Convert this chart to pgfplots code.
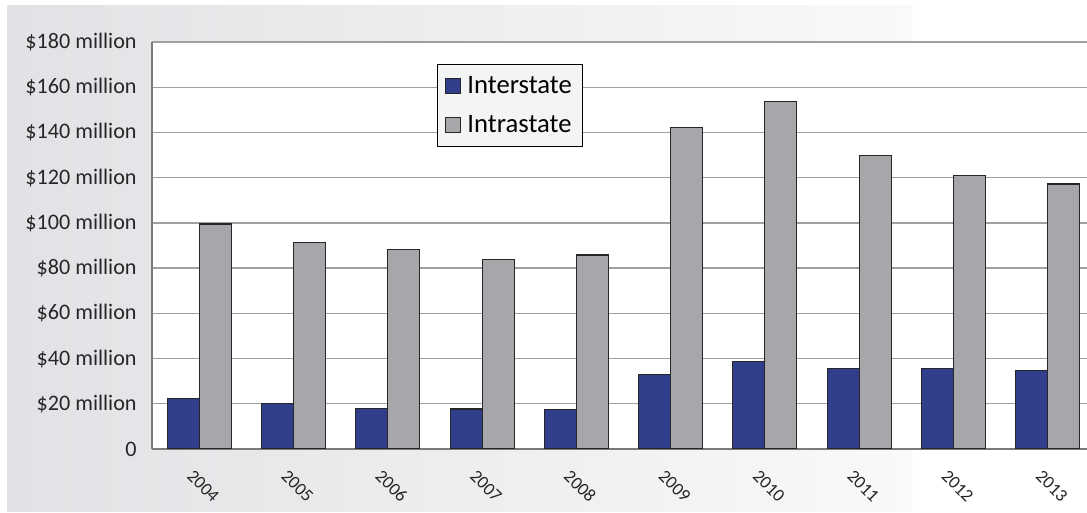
\documentclass[border=0pt]{standalone}
\usepackage{pgfplots}
\pgfplotsset{compat=1.18}
\usepackage{fontspec}
\setmainfont{Carlito}
\definecolor{inter}{HTML}{313E8B}
\definecolor{intra}{HTML}{A7A7AB}
\definecolor{bgL}{HTML}{E1E2E5}
\definecolor{bgR}{HTML}{F9F9F9}
\definecolor{gridc}{HTML}{A0A0A0}
\definecolor{axc}{HTML}{7A7A7A}
\definecolor{legf}{HTML}{F3F4F4}
\begin{document}
\begin{tikzpicture}
\path[use as bounding box, clip] (0,0) rectangle (815.25pt,384.75pt);
\shade[left color=bgL, right color=bgR] (5.25pt,0.75pt) rectangle (684pt,380.25pt);
\begin{axis}[
  at={(114pt,48pt)}, anchor=south west,
  scale only axis, width=707.25pt, height=305.25pt,
  xmin=-0.5, xmax=9.5, ymin=0, ymax=180,
  ybar=0pt, bar width=24pt,
  axis background/.style={fill=white},
  axis x line*=bottom, axis y line*=left,
  axis line style={axc, line width=1.5pt},
  xtick={0,...,9},
  xticklabels={2004,2005,2006,2007,2008,2009,2010,2011,2012,2013},
  ytick={0,20,...,180},
  yticklabels={0,\$20 million,\$40 million,\$60 million,\$80 million,\$100 million,\$120 million,\$140 million,\$160 million,\$180 million},
  ymajorgrids, major grid style={gridc, line width=1pt},
  major tick length=0pt,
  yticklabel style={font=\fontsize{16.6}{18}\selectfont, text=black!85, xshift=-8pt},
  xticklabel style={font=\fontsize{13.5}{15}\selectfont, text=black!85, rotate=-45, anchor=north west, xshift=4.5pt, yshift=-9.5pt},
  legend style={at={(0.302,0.946)}, anchor=north west, font=\fontsize{20}{22}\selectfont,
    draw=black, fill=legf, line width=0.8pt, inner xsep=6pt, inner ysep=7pt,
    row sep=11pt, /tikz/every odd column/.append style={column sep=3pt}},
  legend cell align=left,
  legend image code/.code={\draw[#1,draw=black!85,line width=0.6pt] (0pt,-5.5pt) rectangle (11pt,5.5pt);},
]
\addplot[fill=inter, draw=black!85, line width=0.8pt] coordinates {
 (0,22.4) (1,20.3) (2,18.1) (3,17.7) (4,17.6) (5,33.0) (6,38.9) (7,35.4) (8,35.7) (9,34.8)};
\addplot[fill=intra, draw=black!85, line width=0.8pt] coordinates {
 (0,99.5) (1,91.5) (2,88.4) (3,83.6) (4,85.8) (5,142.3) (6,153.6) (7,129.7) (8,120.9) (9,117.2)};
\legend{Interstate,Intrastate}
\end{axis}
\end{tikzpicture}
\end{document}
